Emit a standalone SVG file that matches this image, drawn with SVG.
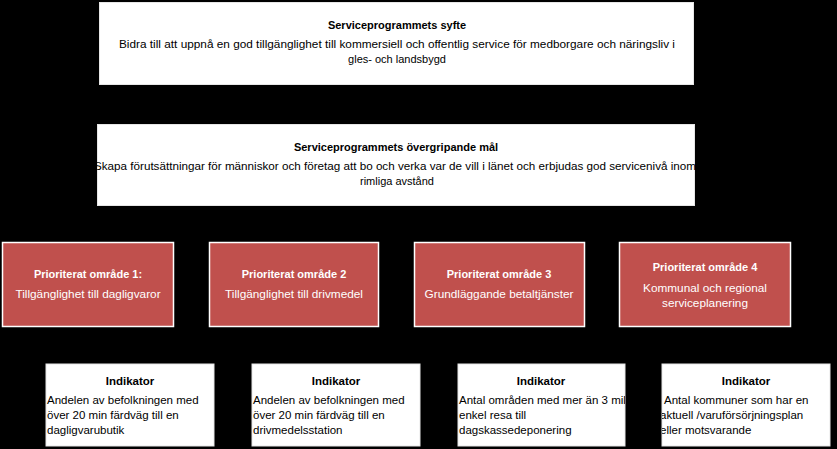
<svg xmlns="http://www.w3.org/2000/svg" width="837" height="449" viewBox="0 0 837 449">
<style>
.bg{fill:#000}
.wbox{fill:#fff;stroke:#e6e6e6;stroke-width:1}
.rbox{fill:#c0504d;stroke:#fff;stroke-width:1.5}
text{font-family:"Liberation Sans",Arial,sans-serif;font-size:11px;fill:#000}
.t{font-weight:bold;text-anchor:middle}
.c{text-anchor:middle}
.w{fill:#fff}
.rb{font-size:11.8px}
.ind{font-size:11.5px}
</style>
<defs>
<clipPath id="c3"><rect x="458" y="364" width="167" height="82"/></clipPath>
<clipPath id="c4"><rect x="662" y="364" width="168" height="82"/></clipPath>
</defs>
<rect class="bg" x="0" y="0" width="837" height="449"/>
<g id="syfte">
<rect class="wbox" x="99.5" y="2.5" width="594" height="82"/>
<text class="t" x="397" y="29">Serviceprogrammets syfte</text>
<text class="c" x="397" y="48" textLength="556" lengthAdjust="spacingAndGlyphs">Bidra till att uppnå en god tillgänglighet till kommersiell och offentlig service för medborgare och näringsliv i</text>
<text class="c" x="397" y="63">gles- och landsbygd</text>
</g>
<g id="mal">
<rect class="wbox" x="97.5" y="124.5" width="597" height="81"/>
<text class="t" x="396" y="151">Serviceprogrammets övergripande mål</text>
<text class="c" x="395" y="170" textLength="602" lengthAdjust="spacingAndGlyphs">Skapa förutsättningar för människor och företag att bo och verka var de vill i länet och erbjudas god servicenivå inom</text>
<text class="c" x="397" y="185">rimliga avstånd</text>
</g>
<g id="omrade1">
<rect class="rbox" x="2.5" y="242.5" width="171" height="84"/>
<text class="t w" x="88" y="278">Prioriterat område 1:</text>
<text class="c w rb" x="88" y="298">Tillgänglighet till dagligvaror</text>
</g>
<g id="omrade2">
<rect class="rbox" x="209.5" y="242.5" width="169" height="84"/>
<text class="t w" x="294" y="278">Prioriterat område 2</text>
<text class="c w rb" x="294" y="298">Tillgänglighet till drivmedel</text>
</g>
<g id="omrade3">
<rect class="rbox" x="414.5" y="242.5" width="170" height="84"/>
<text class="t w" x="499" y="278">Prioriterat område 3</text>
<text class="c w rb" x="499" y="298">Grundläggande betaltjänster</text>
</g>
<g id="omrade4">
<rect class="rbox" x="619.5" y="242.5" width="171" height="84"/>
<text class="t w" x="705" y="271">Prioriterat område 4</text>
<text class="c w rb" x="705" y="292">Kommunal och regional</text>
<text class="c w rb" x="705" y="307">serviceplanering</text>
</g>
<g id="ind1">
<rect class="wbox" x="46" y="364" width="168" height="82"/>
<text class="t ind" x="130" y="385">Indikator</text>
<text class="ind" x="47" y="404">Andelen av befolkningen med</text>
<text class="ind" x="47" y="419">över 20 min färdväg till en</text>
<text class="ind" x="47" y="434">dagligvarubutik</text>
</g>
<g id="ind2">
<rect class="wbox" x="252" y="364" width="168" height="82"/>
<text class="t ind" x="336" y="385">Indikator</text>
<text class="ind" x="253" y="404">Andelen av befolkningen med</text>
<text class="ind" x="253" y="419">över 20 min färdväg till en</text>
<text class="ind" x="253" y="434">drivmedelsstation</text>
</g>
<g id="ind3">
<rect class="wbox" x="458" y="364" width="167" height="82"/>
<g clip-path="url(#c3)">
<text class="t ind" x="541" y="385">Indikator</text>
<text class="ind" x="459" y="404">Antal områden med mer än 3 mil</text>
<text class="ind" x="459" y="419">enkel resa till</text>
<text class="ind" x="459" y="434">dagskassedeponering</text>
</g>
</g>
<g id="ind4">
<rect class="wbox" x="662" y="364" width="168" height="82"/>
<g clip-path="url(#c4)">
<text class="t ind" x="746" y="385">Indikator</text>
<text class="ind" x="664" y="404">Antal kommuner som har en</text>
<text class="ind" x="660" y="419">aktuell  /varuförsörjningsplan</text>
<text class="ind" x="660" y="434">eller motsvarande</text>
</g>
</g>
<g id="connectors"/>
</svg>
